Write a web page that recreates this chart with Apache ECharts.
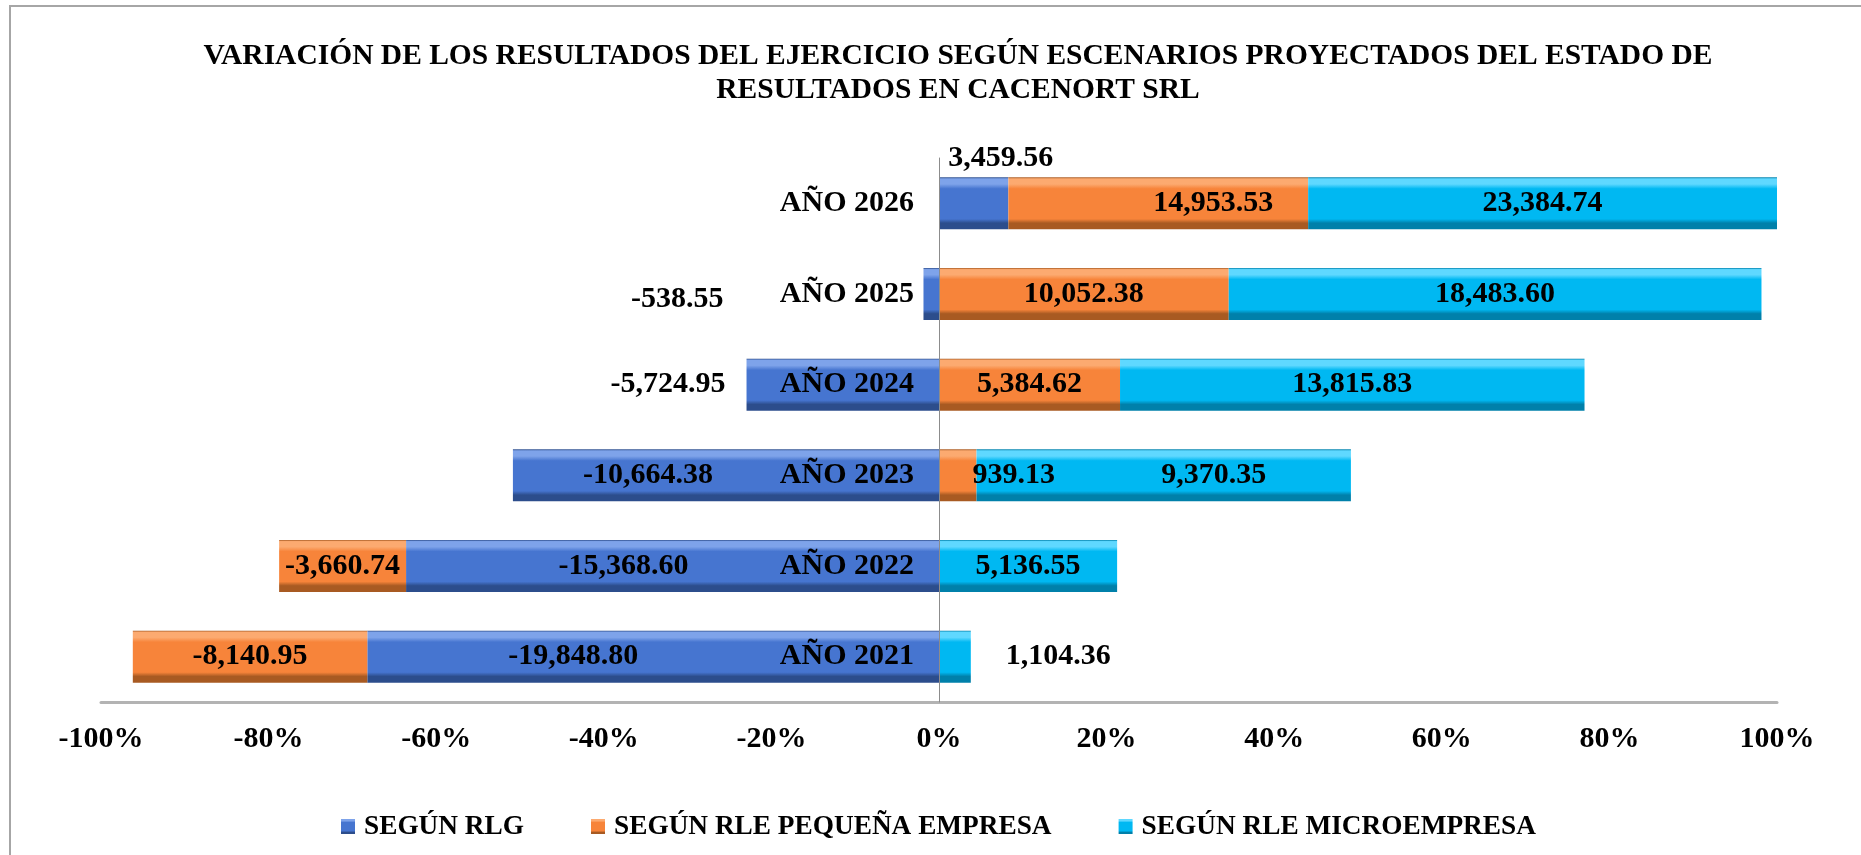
<!DOCTYPE html>
<html>
<head>
<meta charset="utf-8">
<script src="https://cdn.jsdelivr.net/npm/echarts@6/dist/echarts.min.js"></script>
<style>
  html, body { margin: 0; padding: 0; background: #fff; }
  #chart { width: 1861px; height: 855px; }
</style>
</head>
<body>
<div id="chart"></div>
<script>
const years = ["AÑO 2021", "AÑO 2022", "AÑO 2023", "AÑO 2024", "AÑO 2025", "AÑO 2026"];
const seriesNames = ["SEGÚN RLG", "SEGÚN RLE PEQUEÑA EMPRESA", "SEGÚN RLE MICROEMPRESA"];
const rlg = [-19848.80, -15368.60, -10664.38, -5724.95, -538.55, 3459.56];
const rlePequena = [-8140.95, -3660.74, 939.13, 5384.62, 10052.38, 14953.53];
const rleMicro = [1104.36, 5136.55, 9370.35, 13815.83, 18483.60, 23384.74];
const xTicks = { min: -1, max: 1, step: 0.2 };
const titleText = "VARIACIÓN DE LOS RESULTADOS DEL EJERCICIO SEGÚN ESCENARIOS PROYECTADOS DEL ESTADO DE\nRESULTADOS EN CACENORT SRL";

const rawData = [rlg, rlePequena, rleMicro];
const font = "'Liberation Serif', 'Times New Roman', serif";

// 100% stacked: each value as share of the absolute total of its year
const totals = years.map((y, i) => rawData.reduce((s, arr) => s + Math.abs(arr[i]), 0));

const gridLeft = 101;
const gridRight = 84;
const plotWidth = 1861 - gridLeft - gridRight;

// bevel-ish look like the excel shape effect
function bevel(light, base, dark) {
  return new echarts.graphic.LinearGradient(0, 0, 0, 1, [
    { offset: 0, color: dark },
    { offset: 0.03, color: light },
    { offset: 0.13, color: light },
    { offset: 0.22, color: base },
    { offset: 0.8, color: base },
    { offset: 0.88, color: dark },
    { offset: 1, color: dark },
  ]);
}
const colors = [
  bevel("#7ea3ea", "#4675d0", "#2c4d8c"),
  bevel("#fcaa70", "#f7843a", "#a85a22"),
  bevel("#5fd8ff", "#00b8f2", "#0080aa"),
];

// label placement tweaks (seriesIndex-dataIndex)
const labelTweaks = {
  "0-5": { position: "top", distance: 4, offset: [27, 0] },
  "0-4": { position: "left", distance: 200, offset: [0, 5] },
  "0-3": { position: "left", distance: 21 },
  "0-2": { offset: [-78, 0] },
  "0-1": { offset: [-49, 0] },
  "0-0": { offset: [-80, 0] },
  "1-5": { offset: [55, 0] },
  "1-2": { position: "right", distance: -4 },
  "2-0": { position: "right", distance: 35 },
  "2-2": { offset: [50, 0] },
};

function fmt(v) {
  return v.toLocaleString("en-US", { minimumFractionDigits: 2, maximumFractionDigits: 2 });
}

const series = rawData.map((arr, si) => {
  return {
    name: seriesNames[si],
    type: "bar",
    stack: "total",
    barWidth: 52,
    itemStyle: { color: colors[si] },
    label: {
      show: true,
      position: "inside",
      color: "#000",
      fontFamily: font,
      fontWeight: "bold",
      fontSize: 30,
      formatter: (p) => fmt(rawData[p.seriesIndex][p.dataIndex]),
    },
    data: arr.map((v, i) => {
      let item = { value: v / totals[i] };
      const t = labelTweaks[si + "-" + i];
      if (t) item.label = t;
      return item;
    }),
  };
});

const chart = echarts.init(document.getElementById("chart"));
const option = {
  animation: false,
  backgroundColor: "#fff",
  legend: {
    data: seriesNames,
    bottom: 15,
    left: 341,
    padding: 0,
    icon: "rect",
    itemWidth: 14,
    itemHeight: 15,
    itemGap: 67,
    textStyle: {
      fontFamily: font,
      fontWeight: "bold",
      fontSize: 27.3,
      color: "#000",
      padding: [0, 0, 0, 4],
    },
  },
  grid: { left: gridLeft, right: gridRight, top: 158, bottom: 153 },
  xAxis: {
    type: "value",
    min: xTicks.min,
    max: xTicks.max,
    interval: xTicks.step,
    axisLine: { show: true, lineStyle: { color: "#b3b3b3", width: 3 } },
    axisTick: { show: false },
    splitLine: { show: false },
    axisLabel: {
      margin: 22,
      color: "#000",
      fontFamily: font,
      fontWeight: "bold",
      fontSize: 30,
      formatter: (v) => Math.round(v * 100) + "%",
    },
  },
  yAxis: {
    type: "category",
    data: years,
    z: 10,
    // put the axis (line + labels) on the 0% position
    offset: -plotWidth / 2,
    axisLine: { show: true, onZero: false, lineStyle: { color: "#8c8c8c", width: 1 } },
    axisTick: { show: false },
    axisLabel: {
      margin: 25,
      color: "#000",
      fontFamily: font,
      fontWeight: "bold",
      fontSize: 30,
    },
  },
  graphic: [
    {
      type: "rect",
      shape: { x: 10, y: 6, width: 1900, height: 900 },
      style: { fill: null, stroke: "#a6a6a6", lineWidth: 2 },
      silent: true,
    },
    {
      type: "text",
      x: 958,
      y: 39,
      silent: true,
      style: {
        text: titleText,
        fill: "#000",
        fontFamily: font,
        fontWeight: "bold",
        fontSize: 29.5,
        lineHeight: 34,
        textAlign: "center",
        textVerticalAlign: "top",
      },
    },
  ],
  series: series,
};
option && chart.setOption(option);
</script>
</body>
</html>
